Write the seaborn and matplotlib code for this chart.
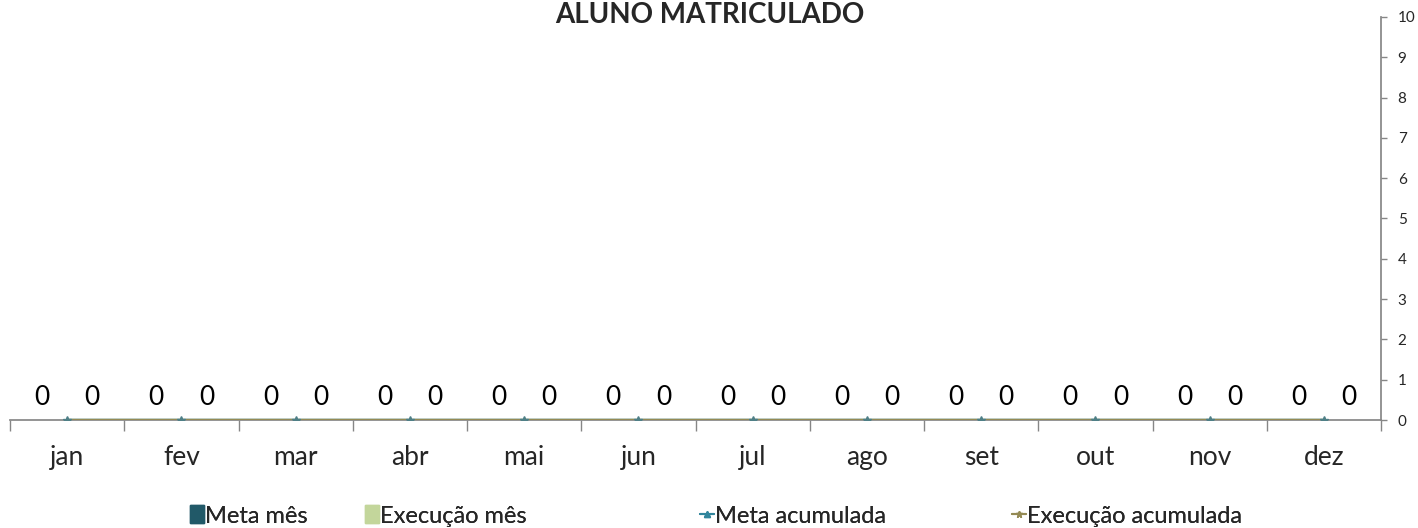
import matplotlib
matplotlib.use("Agg")
import matplotlib.pyplot as plt
import seaborn as sns
import pandas as pd
from matplotlib.patches import Patch
from matplotlib.lines import Line2D

months = ["jan", "fev", "mar", "abr", "mai", "jun", "jul", "ago", "set", "out", "nov", "dez"]
meta_mes = [0] * 12
execucao_mes = [0] * 12
meta_acumulada = [0] * 12
execucao_acumulada = [0] * 12
series_names = ["Meta mês", "Execução mês", "Meta acumulada", "Execução acumulada"]
title = "ALUNO MATRICULADO"

sns.set_theme(style="white")
plt.rcParams["font.family"] = ["Lato", "DejaVu Sans"]

c_meta = "#215968"
c_exec = "#C3D69B"
c_meta_ac = "#31859C"
c_exec_ac = "#948A54"

W, H = 1418, 528
fig = plt.figure(figsize=(W / 100, H / 100), dpi=100)
ax = fig.add_axes([10 / W, 1 - 420 / H, (1381 - 10) / W, (420 - 17) / H])

df = pd.DataFrame({
    "mes": months * 2,
    "valor": meta_mes + execucao_mes,
    "serie": [series_names[0]] * 12 + [series_names[1]] * 12,
})
sns.barplot(data=df, x="mes", y="valor", hue="serie", palette=[c_meta, c_exec],
            width=0.88, ax=ax, legend=False, errorbar=None)
for cont in ax.containers:
    ax.bar_label(cont, labels=[f"{v:g}" for v in cont.datavalues], padding=7,
                 fontsize=19, color="black")

x = list(range(12))
ax.plot(x, meta_acumulada, color=c_meta_ac, marker="^", markersize=5, lw=2.5, zorder=3)
ax.plot(x, execucao_acumulada, color=c_exec_ac, marker="*", markersize=6, lw=2.5, zorder=4,
        markeredgecolor="#4F7F86", markerfacecolor="#4F7F86")

ax.set_xlim(-0.5, 11.5)
ax.set_ylim(0, 10)
ax.yaxis.tick_right()
ax.set_yticks(range(0, 11))
ax.tick_params(axis="y", right=True, left=False, length=4, width=1, color="#868686",
               labelsize=11, pad=8, direction="out")
ax.set_xticks([i - 0.5 for i in range(13)], minor=True)
ax.set_xticks(x)
ax.set_xticklabels(months, fontsize=19)
ax.tick_params(axis="x", which="major", length=0, pad=18)
ax.tick_params(axis="x", which="minor", bottom=True, length=8, width=1, color="#868686")
ax.set_xlabel("")
ax.set_ylabel("")
for s in ["top", "left"]:
    ax.spines[s].set_visible(False)
ax.spines["right"].set_visible(True)
ax.spines["bottom"].set_color("#868686")
ax.spines["right"].set_color("#868686")
ax.grid(False)

fig.text(710 / W, 1 - 2 / H, title, ha="center", va="top", fontsize=20, fontweight="bold")

handles = [
    Patch(facecolor=c_meta, edgecolor=c_meta),
    Patch(facecolor=c_exec, edgecolor=c_exec),
    Line2D([], [], color=c_meta_ac, marker="^", markersize=4, lw=1.5),
    Line2D([], [], color=c_exec_ac, marker="*", markersize=5, lw=1.5),
]
xs = [190, 365, 700, 1012]
for h, name, xp in zip(handles, series_names, xs):
    leg = fig.legend([h], [name], loc="center left", bbox_to_anchor=(xp / W, 1 - 516 / H),
                     frameon=False, fontsize=17, handlelength=0.6, handletextpad=0.05,
                     borderpad=0, borderaxespad=0, handleheight=0.8)
    fig.add_artist(leg)

fig.savefig("out.png", dpi=100)
